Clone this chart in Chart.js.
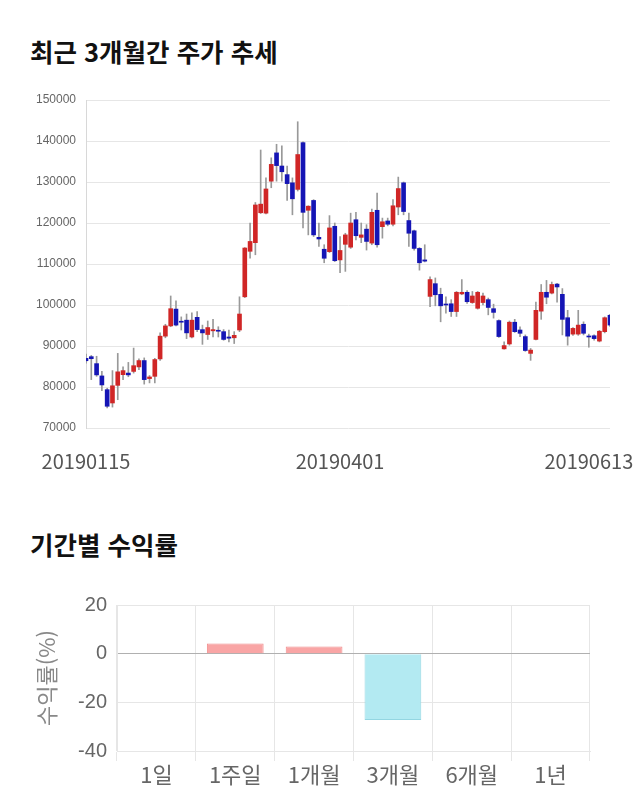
<!DOCTYPE html>
<html lang="ko">
<head>
<meta charset="utf-8">
<title>최근 3개월간 주가 추세</title>
<script src="https://cdn.jsdelivr.net/npm/chart.js@4.4.1/dist/chart.umd.min.js"></script>
<style>
  html, body { margin: 0; padding: 0; background: #fff; }
  body { width: 640px; height: 810px; position: relative; overflow: hidden;
         font-family: "Noto Sans CJK KR", "Noto Sans", sans-serif; }
  .title { position: absolute; left: 30px; font-size: 25.5px; line-height: 26px;
           font-weight: bold; color: #111; }
  #priceBox { position: absolute; left: 0; top: 80px; width: 640px; height: 400px; }
  #returnBox { position: absolute; left: 0; top: 580px; width: 640px; height: 230px; }
</style>
</head>
<body>
<div class="title" style="top:38px">최근 3개월간 주가 추세</div>
<div id="priceBox"><canvas id="priceChart"></canvas></div>
<div class="title" style="top:531px">기간별 수익률</div>
<div id="returnBox"><canvas id="returnChart"></canvas></div>

<script>
// 일봉 데이터 (시가 / 고가 / 저가 / 종가)
const opens = [
  87000, 87400, 85700, 82700, 79350, 76100, 80400, 83000, 83400, 83800,
  84900, 86450, 82050, 82600, 86850, 92400, 94900, 99000, 96000, 96300,
  92200, 97000, 94000, 92800, 93700, 93700, 93500, 92200, 92000, 93900,
  102000, 113100, 115200, 122500, 122400, 130200, 137100, 133900, 131800, 129800,
  128200, 139600, 123100, 125500, 116500, 113600, 113000, 119200, 111000, 114800,
  114100, 120800, 116500, 118500, 115100, 123100, 119100, 120500, 119700, 123900,
  129800, 120600, 118100, 113800, 111000, 102100, 105200, 102600, 100200, 100300,
  98400, 102700, 103100, 100600, 99200, 100600, 101300, 99100, 96200, 89300,
  90500, 95800, 93900, 92300, 88200, 91600, 98500, 103100, 102900, 105100,
  102600, 96900, 92900, 92900, 95300, 92300, 92500, 91200, 93500, 97500
];
const highs = [
  88000, 87700, 87500, 83800, 79700, 84000, 88200, 84900, 86000, 89500,
  86900, 87100, 82800, 87000, 93200, 95300, 102200, 101000, 97100, 97800,
  98100, 98400, 95100, 96100, 96500, 94700, 94000, 93900, 93500, 102000,
  114000, 120000, 125000, 137800, 131000, 135900, 139200, 138800, 133900, 131000,
  144700, 139800, 124200, 125700, 120000, 114700, 121800, 120000, 116700, 117500,
  122400, 122600, 120000, 119600, 123400, 127300, 121200, 121200, 125700, 131200,
  130000, 122400, 118300, 114000, 114700, 106900, 106600, 104100, 102000, 101300,
  103300, 106200, 103500, 103300, 103300, 102900, 101700, 100200, 96400, 91000,
  96100, 96500, 94700, 92700, 89400, 100700, 105000, 106000, 105600, 105300,
  104000, 98700, 94500, 98700, 95900, 92900, 92700, 93800, 97100, 97700
];
const lows = [
  85800, 81800, 82600, 79100, 74900, 75100, 76900, 81800, 82500, 83400,
  84250, 80700, 81000, 81000, 86500, 92000, 94700, 94900, 93900, 91800,
  92000, 93500, 90400, 91600, 92200, 92200, 91400, 91000, 90600, 93500,
  101800, 111400, 112250, 122300, 122200, 128600, 130200, 130200, 125500, 122000,
  127800, 118800, 117100, 116700, 114300, 110300, 112800, 110600, 107900, 108200,
  113800, 115900, 115200, 113400, 114700, 114100, 116300, 119300, 119300, 122000,
  122000, 114300, 113400, 108500, 110500, 99600, 99800, 95900, 98000, 97200,
  97200, 102500, 100400, 100400, 99000, 100000, 97600, 96800, 92100, 89200,
  90200, 93300, 92300, 88700, 86500, 91500, 96500, 100300, 102700, 100700,
  92700, 90200, 92600, 92600, 92700, 89700, 91400, 91000, 93200, 94800
];
const closes = [
  86400, 86900, 82950, 80500, 75300, 80300, 83700, 84000, 82950, 85200,
  86450, 81800, 82450, 86700, 92400, 94900, 99100, 95100, 95800, 93200,
  96300, 94000, 93200, 94500, 94000, 93600, 91600, 91900, 92600, 97800,
  113900, 115500, 124400, 124600, 128300, 134300, 134000, 132500, 129600, 125900,
  136700, 122600, 124100, 117100, 116100, 111400, 118800, 110800, 113300, 117100,
  120000, 116900, 117100, 115500, 122600, 114700, 120300, 119700, 124200, 128400,
  122800, 117500, 113800, 110300, 110700, 106200, 102500, 99800, 100000, 98400,
  103100, 103100, 100800, 102200, 103100, 102200, 99400, 98200, 92300, 90100,
  95800, 93500, 93100, 88900, 89000, 98700, 103100, 101900, 105000, 104400,
  96500, 92400, 94300, 95100, 93100, 92200, 91800, 93600, 96900, 95100
];
// x축 날짜 라벨과 그 위치(봉 인덱스)
const tickLabels = ['20190115', '20190401', '20190613'];
const tickIndexes = [0, 48, 95];

// 기간별 수익률
const periods = ['1일', '1주일', '1개월', '3개월', '6개월', '1년'];
const returns = [null, 4.2, 2.9, -27.3, null, null];

const UP = '#d02626';
const DOWN = '#1515b5';

const xLabels = opens.map((v, i) => String(i));
const wicks = lows.map((l, i) => [l, highs[i]]);
const bodies = opens.map((o, i) => [o, closes[i]]);
const bodyColors = opens.map((o, i) => (closes[i] >= o ? UP : DOWN));

new Chart(document.getElementById('priceChart'), {
  type: 'bar',
  data: {
    labels: xLabels,
    datasets: [
      {
        label: '몸통',
        data: bodies,
        backgroundColor: bodyColors,
        barThickness: 4,
        minBarLength: 1,
        grouped: false,
        order: 1
      },
      {
        label: '꼬리',
        data: wicks,
        backgroundColor: '#999999',
        barThickness: 1,
        grouped: false,
        order: 2
      }
    ]
  },
  options: {
    responsive: true,
    maintainAspectRatio: false,
    animation: false,
    layout: { padding: { top: 20, right: 30, left: 0, bottom: 0 } },
    plugins: { legend: { display: false }, tooltip: { enabled: false } },
    scales: {
      x: {
        offset: false,
        grid: { display: false },
        border: { display: false },
        ticks: {
          autoSkip: false,
          maxRotation: 0,
          minRotation: 0,
          padding: 13,
          color: '#555',
          font: { family: '"Noto Sans CJK KR", sans-serif', size: 20 },
          callback: function(value, index) {
            const k = tickIndexes.indexOf(index);
            return k >= 0 ? tickLabels[k] : '';
          }
        },
        afterFit: function(scale) {
          scale.height = 52;
          scale.paddingLeft = 0;
          scale.paddingRight = 0;
        }
      },
      y: {
        min: 70000,
        max: 150000,
        grid: { color: '#e6e6e6', drawTicks: false },
        border: { display: true, color: '#d8d8d8' },
        ticks: {
          stepSize: 10000,
          padding: 10,
          color: '#666',
          font: { family: '"Liberation Sans", sans-serif', size: 12 },
          callback: v => String(v)
        },
        afterFit: function(scale) { scale.width = 86; }
      }
    }
  }
});

new Chart(document.getElementById('returnChart'), {
  type: 'bar',
  data: {
    labels: periods,
    datasets: [{
      label: '수익률',
      data: returns,
      backgroundColor: returns.map(v => (v >= 0 ? '#f9a5a5' : '#b3eaf2')),
      borderColor: returns.map(v => (v >= 0 ? '#f08c8c' : '#93d6e2')),
      borderWidth: 1
    }]
  },
  options: {
    responsive: true,
    maintainAspectRatio: false,
    animation: false,
    layout: { padding: { top: 25, right: 50, left: 24, bottom: 0 } },
    plugins: { legend: { display: false }, tooltip: { enabled: false } },
    scales: {
      x: {
        grid: { color: '#e6e6e6', tickLength: 10 },
        border: { color: '#e6e6e6' },
        ticks: {
          padding: 0,
          color: '#666',
          font: { family: '"Noto Sans CJK KR", sans-serif', size: 22 }
        },
        afterFit: function(scale) { scale.height = 59; }
      },
      y: {
        min: -40,
        max: 20,
        grid: {
          drawTicks: false,
          color: ctx => (ctx.tick && ctx.tick.value === 0 ? '#b0b0b0' : '#e6e6e6')
        },
        border: { color: '#e6e6e6' },
        ticks: {
          stepSize: 20,
          padding: 10,
          color: '#666',
          font: { family: '"Liberation Sans", sans-serif', size: 20 }
        },
        title: {
          display: true,
          text: '수익률(%)',
          color: '#888',
          padding: { top: 9, bottom: 0 },
          font: { family: '"Noto Sans CJK KR", sans-serif', size: 22 }
        },
        afterFit: function(scale) { scale.width = 93; }
      }
    }
  }
});
</script>
</body>
</html>
